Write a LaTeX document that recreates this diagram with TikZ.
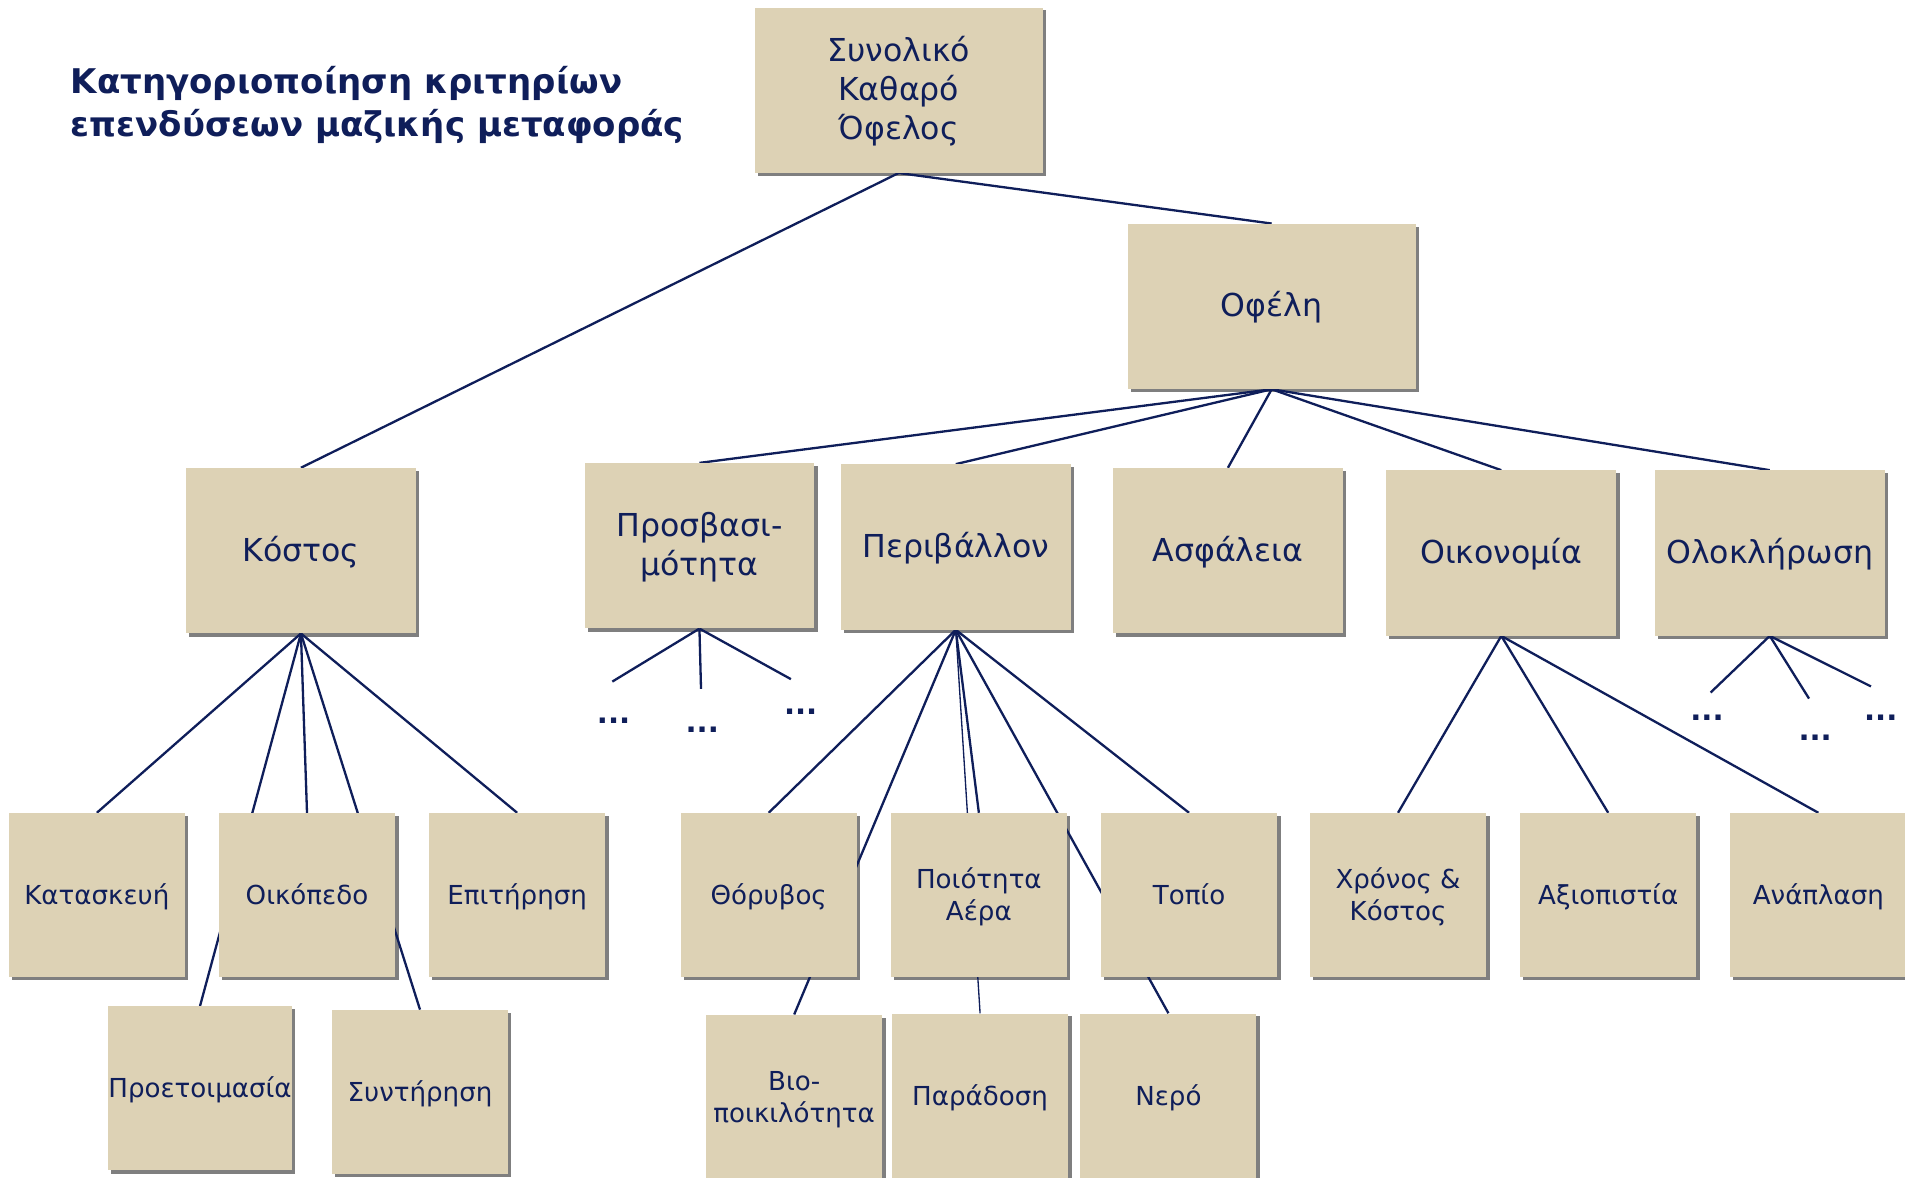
\documentclass[tikz,border=0pt]{standalone}
\usepackage{fontspec}
\setmainfont{DejaVu Sans}
\definecolor{boxfill}{HTML}{DDD2B5}
\definecolor{navy}{HTML}{0F1E5A}
\definecolor{shade}{HTML}{7F7F7F}
\pgfdeclarelayer{shadowlayer}
\pgfdeclarelayer{linelayer}
\pgfsetlayers{shadowlayer,linelayer,main}
\newcommand{\bigtxt}[1]{\raisebox{-2.2pt}[\height][\depth]{\begin{tabular}{@{}c@{}}#1\end{tabular}}}
\newcommand{\smalltxt}[1]{\raisebox{-2.6pt}[\height][\depth]{\begin{tabular}{@{}c@{}}#1\end{tabular}}}
\begin{document}
\begin{tikzpicture}[x=1pt,y=-1pt,
 box/.style={draw=none, fill=boxfill, text=navy, inner sep=0pt, anchor=north west},
 big/.style={box, minimum width=189pt, minimum height=136pt, font=\fontsize{26}{32}\selectfont},
 small/.style={box, minimum width=145pt, minimum height=135pt, font=\fontsize{21.5}{26.5}\selectfont},
 link/.style={draw=navy, line width=1.9pt},
 thinlink/.style={draw=navy, line width=1.1pt},
 dots/.style={text=navy, font=\bfseries\fontsize{24}{24}\selectfont, inner sep=0pt},
 titletext/.style={text=navy, font=\bfseries\fontsize{28}{35}\selectfont, inner sep=0pt, anchor=base west},
 shadowfill/.style={fill=shade},
]
\useasboundingbox (0,0) rectangle (1568,969);

\node[titletext] (t1) at (58,77) {Κατηγοριοποίηση κριτηρίων};
\node[titletext] (t2) at (58,112) {επενδύσεων μαζικής μεταφοράς};

\node[big, minimum width=237pt] (root) at (621,6) {\bigtxt{Συνολικό\\Καθαρό\\Όφελος}};
\node[big, minimum width=237pt] (ofeli) at (928,184) {\bigtxt{Οφέλη}};

\node[big] (kostos) at (153,385) {\bigtxt{Κόστος}};
\node[big] (prosv) at (481,381) {\bigtxt{Προσβασι-\\μότητα}};
\node[big] (perivallon) at (692,382) {\bigtxt{Περιβάλλον}};
\node[big] (asfaleia) at (916,385) {\bigtxt{Ασφάλεια}};
\node[big] (oikonomia) at (1141,387) {\bigtxt{Οικονομία}};
\node[big] (oloklirosi) at (1362,387) {\bigtxt{Ολοκλήρωση}};

\node[small] (kataskevi) at (7,669) {\smalltxt{Κατασκευή}};
\node[small] (oikopedo) at (180,669) {\smalltxt{Οικόπεδο}};
\node[small] (epitirisi) at (353,669) {\smalltxt{Επιτήρηση}};
\node[small] (proetoim) at (89,828) {\smalltxt{Προετοιμασία}};
\node[small] (syntirisi) at (273,831) {\smalltxt{Συντήρηση}};

\node[small] (thoryvos) at (560,669) {\smalltxt{Θόρυβος}};
\node[small] (aeras) at (733,669) {\smalltxt{Ποιότητα\\Αέρα}};
\node[small] (topio) at (906,669) {\smalltxt{Τοπίο}};
\node[small] (vio) at (581,835) {\smalltxt{Βιο-\\ποικιλότητα}};
\node[small] (paradosi) at (734,834) {\smalltxt{Παράδοση}};
\node[small] (nero) at (889,834) {\smalltxt{Νερό}};

\node[small] (xronos) at (1078,669) {\smalltxt{Χρόνος \&\\Κόστος}};
\node[small] (axiopistia) at (1251,669) {\smalltxt{Αξιοπιστία}};
\node[small] (anaplasi) at (1424,669) {\smalltxt{Ανάπλαση}};

\coordinate (p1) at (504,561);
\coordinate (p2) at (577,567);
\coordinate (p3) at (651,559);
\coordinate (q1) at (1408,570);
\coordinate (q2) at (1489,575);
\coordinate (q3) at (1540,565);

\node[dots] (pd1) at (505,593) {...};
\node[dots] (pd2) at (578,601) {...};
\node[dots] (pd3) at (659,586) {...};
\node[dots] (qd1) at (1405,591) {...};
\node[dots] (qd2) at (1494,607) {...};
\node[dots] (qd3) at (1548,591) {...};

\begin{pgfonlayer}{shadowlayer}
\foreach \n in {root,ofeli,kostos,prosv,perivallon,asfaleia,oikonomia,oloklirosi,
  kataskevi,oikopedo,epitirisi,proetoim,syntirisi,thoryvos,aeras,topio,vio,paradosi,nero,
  xronos,axiopistia,anaplasi}
  \fill[shadowfill] ([shift={(2.6,2.6)}]\n.south west) rectangle ([shift={(2.6,2.6)}]\n.north east);
\end{pgfonlayer}

\begin{pgfonlayer}{linelayer}
\draw[link] (root.south) -- (kostos.north);
\draw[link] (root.south) -- (ofeli.north);
\foreach \c in {prosv,perivallon,asfaleia,oikonomia,oloklirosi}
  \draw[link] (ofeli.south) -- (\c.north);
\foreach \c in {kataskevi,oikopedo,epitirisi,proetoim,syntirisi}
  \draw[link] (kostos.south) -- (\c.north);
\foreach \c in {thoryvos,aeras,topio,vio,nero}
  \draw[link] (perivallon.south) -- (\c.north);
\draw[thinlink] (perivallon.south) -- (paradosi.north);
\foreach \c in {xronos,axiopistia,anaplasi}
  \draw[link] (oikonomia.south) -- (\c.north);
\foreach \c in {p1,p2,p3}
  \draw[link] (prosv.south) -- (\c);
\foreach \c in {q1,q2,q3}
  \draw[link] (oloklirosi.south) -- (\c);
\end{pgfonlayer}
\end{tikzpicture}
\end{document}
